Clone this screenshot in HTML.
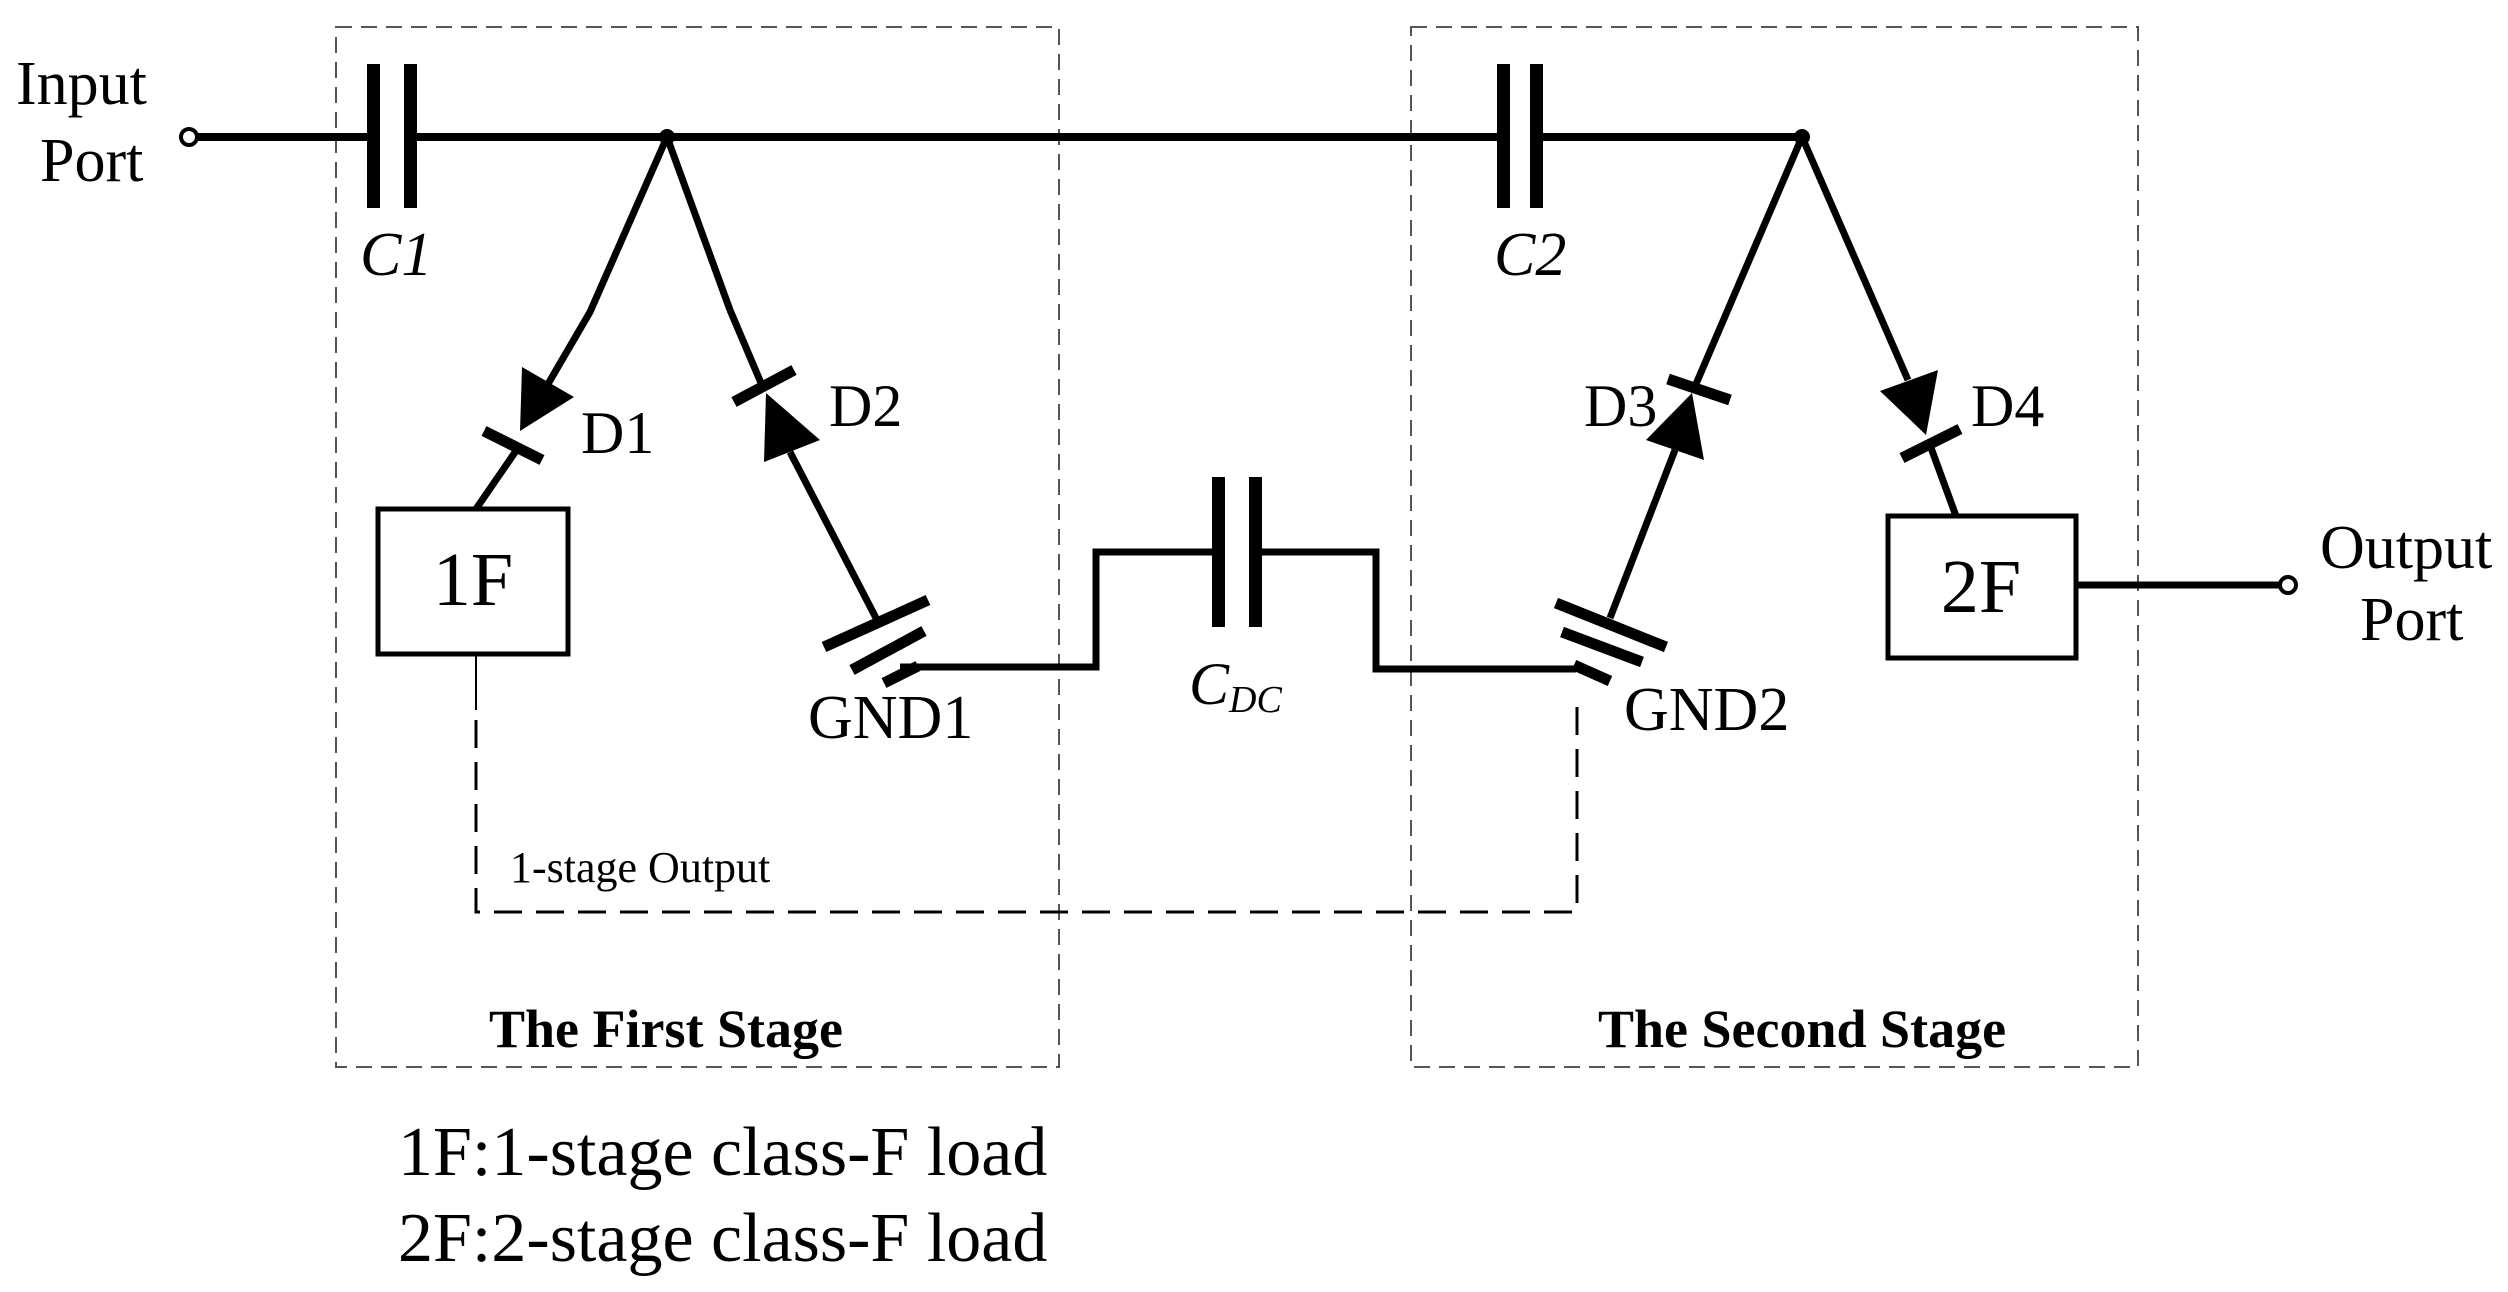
<!DOCTYPE html>
<html><head><meta charset="utf-8"><style>
html,body{margin:0;padding:0;background:#fff;}
svg{display:block;}
text{font-family:"Liberation Serif",serif;fill:#000;}
</style></head><body>
<svg width="2508" height="1292" viewBox="0 0 2508 1292" xmlns="http://www.w3.org/2000/svg">
<g fill="none" stroke="#555" stroke-width="2" stroke-dasharray="16,9">
<rect x="336" y="27" width="723" height="1040"/>
<rect x="1411" y="27" width="727" height="1040"/>
</g>
<g stroke="#000" stroke-width="8" fill="none">
<line x1="197" y1="137" x2="373" y2="137"/>
<line x1="411" y1="137" x2="1504" y2="137"/>
<line x1="1536" y1="137" x2="1802" y2="137"/>
</g>
<circle cx="189" cy="137" r="8" fill="#fff" stroke="#000" stroke-width="4"/>
<g fill="#000">
<rect x="367" y="64" width="13" height="144"/>
<rect x="404" y="64" width="13" height="144"/>
<rect x="1497" y="64" width="13" height="144"/>
<rect x="1530" y="64" width="13" height="144"/>
<rect x="1212" y="477" width="13" height="150"/>
<rect x="1249" y="477" width="13" height="150"/>
</g>
<circle cx="667" cy="137" r="8" fill="#000"/>
<circle cx="1802" cy="137" r="8" fill="#000"/>
<g stroke="#000" stroke-width="7" fill="none">
<polyline points="667,137 590,312 548,384"/>
<line x1="520" y1="445" x2="476" y2="509"/>
<line x1="667" y1="137" x2="730" y2="310"/>
<line x1="730" y1="310" x2="764" y2="390"/>
<line x1="790" y1="452" x2="876" y2="618"/>
<line x1="1802" y1="137" x2="1696" y2="384"/>
<line x1="1675" y1="450" x2="1610" y2="618"/>
<line x1="1802" y1="137" x2="1908" y2="380"/>
<line x1="1930" y1="445" x2="1956" y2="516"/>
<polyline points="900,667 1096,667 1096,552 1212,552"/>
<polyline points="1262,552 1376,552 1376,669 1576,669"/>
<line x1="2076" y1="585" x2="2280" y2="585"/>
</g>
<g fill="#000">
<polygon points="522,367 574,397 520,431"/>
<polygon points="766,393 764,462 820,440"/>
<polygon points="1692,393 1646,440 1704,460"/>
<polygon points="1880,391 1938,370 1926,435"/>
</g>
<g stroke="#000" stroke-width="11" fill="none">
<line x1="484" y1="431" x2="542" y2="460"/>
<line x1="734" y1="402" x2="794" y2="370"/>
<line x1="1668" y1="379" x2="1730" y2="400"/>
<line x1="1902" y1="458" x2="1960" y2="429"/>
<line x1="824" y1="647" x2="928" y2="600"/>
<line x1="852" y1="670" x2="924" y2="631"/>
<line x1="884" y1="683" x2="918" y2="666"/>
<line x1="1556" y1="603" x2="1666" y2="647"/>
<line x1="1562" y1="632" x2="1642" y2="662"/>
<line x1="1574" y1="665" x2="1610" y2="681"/>
</g>
<circle cx="2288" cy="585" r="8" fill="#fff" stroke="#000" stroke-width="4"/>
<rect x="378" y="509" width="190" height="145" fill="#fff" stroke="#000" stroke-width="5"/>
<rect x="1888" y="516" width="188" height="142" fill="#fff" stroke="#000" stroke-width="5"/>
<line x1="476" y1="654" x2="476" y2="710" stroke="#000" stroke-width="2"/>
<polyline points="476,720 476,912 1577,912 1577,704" fill="none" stroke="#000" stroke-width="3" stroke-dasharray="28,14"/>
<text x="16" y="104" font-size="62">Input</text>
<text x="40" y="181" font-size="62">Port</text>
<text x="2320" y="568" font-size="62">Output</text>
<text x="2360" y="640" font-size="62">Port</text>
<text x="360" y="275" font-size="62" font-style="italic">C1</text>
<text x="1494" y="275" font-size="62" font-style="italic">C2</text>
<text x="1189" y="704" font-size="60" font-style="italic">C<tspan font-size="38" dy="8">DC</tspan></text>
<text x="581" y="453" font-size="60">D1</text>
<text x="829" y="426" font-size="60">D2</text>
<text x="1584" y="426" font-size="60">D3</text>
<text x="1971" y="426" font-size="60">D4</text>
<text x="473" y="605" font-size="76" text-anchor="middle">1F</text>
<text x="1981" y="612" font-size="76" text-anchor="middle">2F</text>
<text x="808" y="738" font-size="62">GND1</text>
<text x="1624" y="730" font-size="62">GND2</text>
<text x="510" y="882" font-size="44">1-stage Output</text>
<text x="489" y="1047" font-size="54" font-weight="bold">The First Stage</text>
<text x="1598" y="1047" font-size="54" font-weight="bold">The Second Stage</text>
<text x="398" y="1175" font-size="70">1F:1-stage class-F load</text>
<text x="398" y="1261" font-size="70">2F:2-stage class-F load</text>
</svg>
</body></html>
